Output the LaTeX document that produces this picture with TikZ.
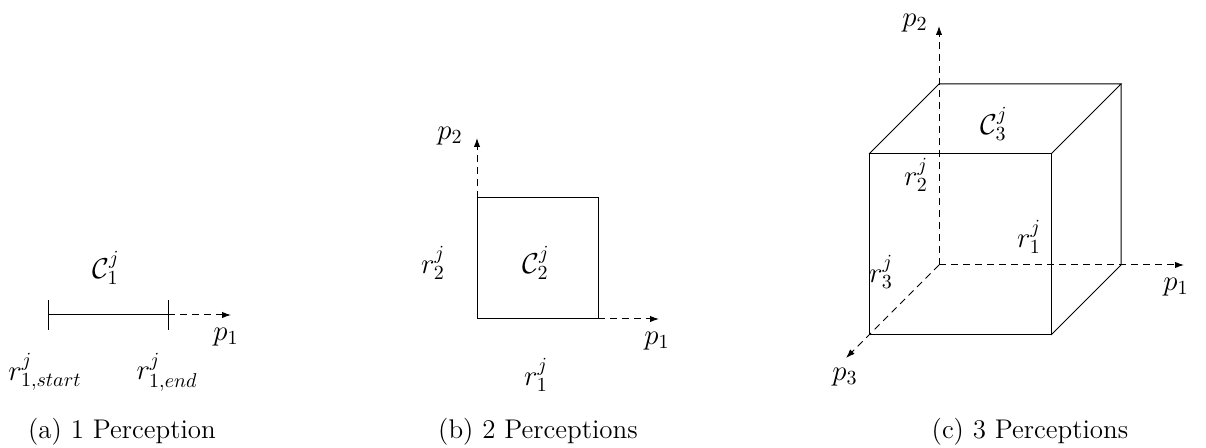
\documentclass[tikz,border=0pt]{standalone}
\usetikzlibrary{arrows.meta}
\begin{document}
\begin{tikzpicture}[x=0.5pt,y=-0.5pt,
  edge/.style={line width=0.5pt},
  axis/.style={line width=0.5pt,dash pattern=on 3.5pt off 2.5pt,-{Latex[length=4.5pt,width=3.2pt]}},
  lbl/.style={inner sep=0pt,font=\fontsize{14.5}{17}\selectfont},
  captext/.style={inner sep=0pt,font=\fontsize{13.5}{16}\selectfont}]
\useasboundingbox (0,0) rectangle (1206,448);
% ---------- (a) ----------
\coordinate (as) at (48,315);
\coordinate (ae) at (168,315);
\coordinate (aa) at (231,315);
\draw[edge] (as) -- (ae);
\draw[edge] (48,300) -- (48,330);
\draw[edge] (168,300) -- (168,330);
\draw[axis] (ae) -- (aa);
\node[lbl] (ap1) at (226,337) {$p_1$};
\node[lbl] (aC) at (106,268) {$\mathcal{C}_1^j$};
\node[lbl] (ars) at (45,372) {$r_{1,start}^j$};
\node[lbl] (are) at (167,372) {$r_{1,end}^j$};
\node[captext] (capa) at (122,432) {(a) 1 Perception};
% ---------- (b) ----------
\coordinate (bo) at (477,319);
\coordinate (bx) at (598,319);
\coordinate (bt) at (477,198);
\coordinate (btr) at (598,198);
\coordinate (bax) at (659,319);
\coordinate (bay) at (477,138);
\draw[edge] (bo) -- (bx) -- (btr) -- (bt) -- cycle;
\draw[axis] (bx) -- (bax);
\draw[axis] (bt) -- (bay);
\node[lbl] (bp1) at (657,341) {$p_1$};
\node[lbl] (bp2) at (450,136) {$p_2$};
\node[lbl] (br2) at (433,263) {$r_2^j$};
\node[lbl] (bC) at (536,263) {$\mathcal{C}_2^j$};
\node[lbl] (br1) at (536,375) {$r_1^j$};
\node[captext] (capb) at (538,432) {(b) 2 Perceptions};
% ---------- (c) ----------
\coordinate (o) at (939,265);
\coordinate (fbl) at (869,335);
\coordinate (fbr) at (1051,335);
\coordinate (ftl) at (869,154);
\coordinate (ftr) at (1051,154);
\coordinate (btl) at (939,84);
\coordinate (btr3) at (1121,84);
\coordinate (bbr) at (1121,265);
\coordinate (cx) at (1184,265);
\coordinate (cy) at (939,26);
\coordinate (cz) at (846,358);
\draw[edge] (fbl) -- (fbr) -- (ftr) -- (ftl) -- cycle;
\draw[edge] (ftl) -- (btl) -- (btr3) -- (ftr);
\draw[edge] (btr3) -- (bbr) -- (fbr);
\draw[axis] (o) -- (cx);
\draw[axis] (o) -- (cy);
\draw[axis] (o) -- (cz);
\node[lbl] (cp2) at (915,23) {$p_2$};
\node[lbl] (cp1) at (1176,287) {$p_1$};
\node[lbl] (cp3) at (845,377) {$p_3$};
\node[lbl] (cC) at (994,124) {$\mathcal{C}_3^j$};
\node[lbl] (cr2) at (916,175) {$r_2^j$};
\node[lbl] (cr1) at (1029,237) {$r_1^j$};
\node[lbl] (cr3) at (881,272) {$r_3^j$};
\node[captext] (capc) at (1030,432) {(c) 3 Perceptions};
\end{tikzpicture}
\end{document}
